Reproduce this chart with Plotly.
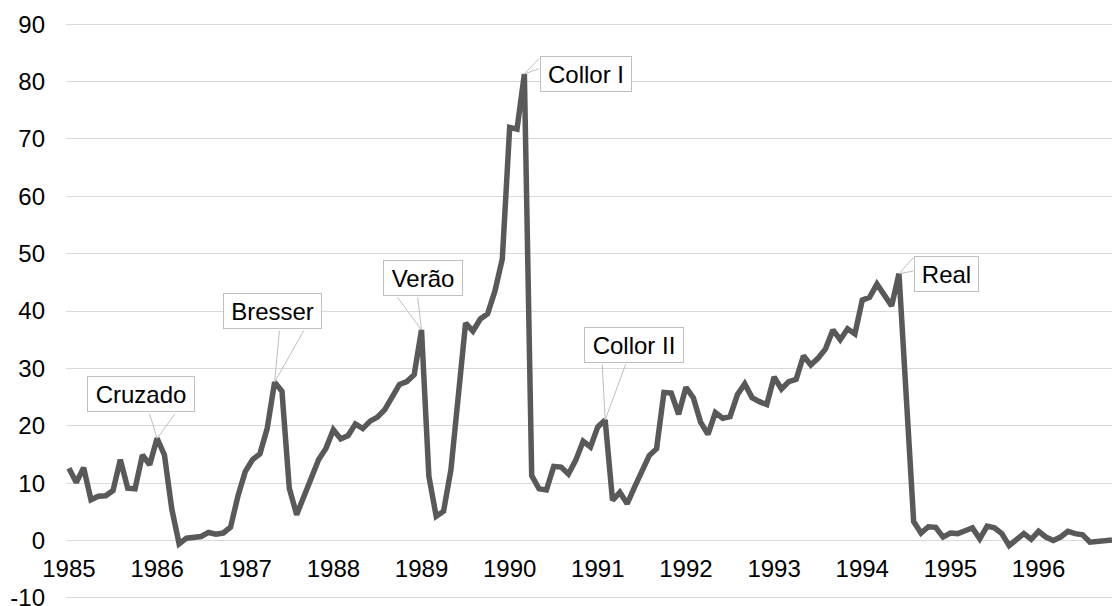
import plotly.graph_objects as go

# monthly inflation (%), Jan 1985 onwards
inflation = [
    12.6, 10.1, 12.7, 7.1, 7.7, 7.8, 8.7, 14.1, 9.1, 9.0, 14.9, 13.2,
    17.8, 14.9, 5.5, -0.6, 0.4, 0.6, 0.7, 1.4, 1.1, 1.3, 2.3, 7.7,
    12.0, 14.1, 15.1, 19.6, 27.6, 26.0, 9.1, 4.5, 7.7, 10.9, 14.1, 16.1,
    19.3, 17.7, 18.3, 20.3, 19.5, 20.8, 21.5, 22.8, 25.1, 27.2, 27.7, 28.9,
    36.7, 11.2, 4.2, 5.1, 12.3, 26.3, 37.9, 36.5, 38.6, 39.5, 43.5, 49.1,
    72.0, 71.7, 81.3, 11.3, 9.0, 8.8, 12.9, 12.8, 11.6, 14.0, 17.3, 16.3,
    19.8, 21.0, 7.0, 8.4, 6.4, 9.3, 11.9, 14.8, 16.0, 25.8, 25.7, 22.0,
    26.7, 24.9, 20.6, 18.5, 22.3, 21.3, 21.6, 25.4, 27.3, 24.9, 24.2, 23.7,
    28.5, 26.4, 27.7, 28.1, 32.2, 30.6, 31.8, 33.4, 36.7, 35.0, 36.9, 36.0,
    41.9, 42.4, 44.7, 42.8, 40.9, 46.5, 24.7, 3.3, 1.3, 2.4, 2.3, 0.6,
    1.3, 1.2, 1.7, 2.2, 0.3, 2.5, 2.2, 1.2, -0.9, 0.2, 1.2, 0.2,
    1.6, 0.6, 0.0, 0.6, 1.6, 1.2, 1.0, -0.3, -0.2, 0.0, 0.1,
]
months = list(range(len(inflation)))
years = [str(y) for y in range(1985, 1997)]
year_starts = [12 * k for k in range(len(years))]
y_ticks = [-10, 0, 10, 20, 30, 40, 50, 60, 70, 80, 90]
y_labels = ["-10", "0", "10", "20", "30", "40", "50", "60", "70", "80", "90"]

plans = ["Cruzado", "Bresser", "Verão", "Collor I", "Collor II", "Real"]
plan_months = [12, 28, 48, 62, 73, 113]

# callout layout: box centre offset, box width, wedge base offsets (px)
callouts = {
    "Cruzado": dict(dx=-16, dy=-44, w=108, base=[(-8, -26), (19, -26)]),
    "Bresser": dict(dx=-2, dy=-71, w=99, base=[(5, -53), (30, -53)]),
    "Verão": dict(dx=1, dy=-52, w=80, base=[(-25, -34), (-4, -34)]),
    "Collor I": dict(dx=62, dy=0, w=92, base=[(16, -17), (16, -6)]),
    "Collor II": dict(dx=29, dy=-75, w=100, base=[(-3, -57), (21, -57)]),
    "Real": dict(dx=48, dy=0, w=65, base=[(16, -18), (16, -3)]),
}

FONT = "Liberation Sans, Arial, sans-serif"
GRID = "#d9d9d9"
EDGE = "#bfbfbf"

fig = go.Figure()
fig.add_trace(
    go.Scatter(
        x=months,
        y=inflation,
        mode="lines",
        line=dict(color="#595959", width=5.5),
        hoverinfo="y",
        showlegend=False,
    )
)

annotations = []
for name, m in zip(plans, plan_months):
    c = callouts[name]
    v = inflation[m]
    # wedge pointer from the box to the data point
    for bx, by in c["base"]:
        annotations.append(
            dict(
                x=m, y=v, xref="x", yref="y", text="",
                showarrow=True, arrowhead=0, arrowwidth=1, arrowcolor=EDGE,
                ax=bx, ay=by, standoff=0, startstandoff=0,
            )
        )
    annotations.append(
        dict(
            x=m, y=v, xref="x", yref="y", text=name, showarrow=False,
            xshift=c["dx"], yshift=-c["dy"],
            width=c["w"] - 2, height=34, borderpad=0,
            bgcolor="white", bordercolor=EDGE, borderwidth=1,
            font=dict(family=FONT, size=24, color="black"),
        )
    )

fig.update_layout(
    width=1112,
    height=606,
    margin=dict(l=66, r=0, t=23, b=7),
    paper_bgcolor="white",
    plot_bgcolor="white",
    font=dict(family=FONT, size=24, color="black"),
    annotations=annotations,
    showlegend=False,
)

fig.update_xaxes(
    range=[-0.4, 142],
    tickvals=year_starts,
    ticktext=years,
    showgrid=False,
    zeroline=False,
    showline=False,
    ticks="",
    anchor="free",
    position=0.1,  # x labels sit on the y=0 line
    ticklabelstandoff=11,
    automargin=False,
    tickfont=dict(family=FONT, size=24, color="black"),
)
fig.update_yaxes(
    range=[-10.2, 90.2],
    tickvals=y_ticks,
    ticktext=y_labels,
    showgrid=True,
    gridcolor=GRID,
    gridwidth=1.3,
    zeroline=False,
    showline=False,
    ticks="",
    ticklabelstandoff=20,
    ticklabeloverflow="allow",
    automargin=False,
    tickfont=dict(family=FONT, size=24, color="black"),
)

fig.write_html(
    "out.html",
    config={"displayModeBar": False},
    post_script="document.body.style.margin='0';document.body.style.overflow='hidden';",
)
